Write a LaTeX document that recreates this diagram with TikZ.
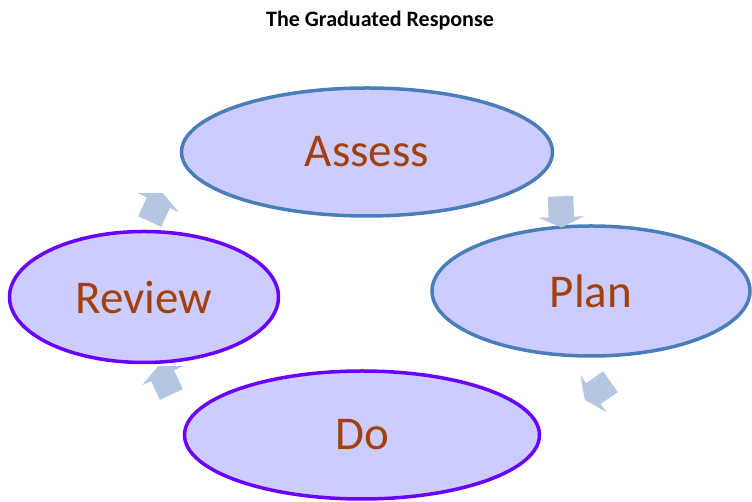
\documentclass[tikz,border=0pt]{standalone}
\usepackage{fontspec}
\setmainfont{Carlito}
\usepackage{xcolor}
\usetikzlibrary{shapes.geometric,shapes.arrows}

\definecolor{fond}{HTML}{CCCCFF}
\definecolor{bordbleu}{HTML}{4A7EBB}
\definecolor{bordviolet}{HTML}{6A00FF}
\definecolor{brique}{HTML}{A3400A}
\definecolor{gris}{HTML}{B4C6E0}

\begin{document}
\begin{tikzpicture}[x=1pt,y=1pt]
\useasboundingbox (0,0) rectangle (752,502);
% Styles of the stages and of the block arrows
\tikzstyle{stage}=[ellipse,fill=fond,line width=3.5pt,inner sep=0pt,
                   text=brique,font=\fontsize{47}{50}\selectfont]
\tikzstyle{bluestage}=[stage,draw=bordbleu]
\tikzstyle{purplestage}=[stage,draw=bordviolet]
\tikzstyle{flow}=[single arrow,fill=gris,draw=none,inner sep=12.5pt,
                  minimum height=31pt,single arrow head extend=10pt,
                  single arrow tip angle=130]

% Title
\node[font=\bfseries\fontsize{22}{26}\selectfont] (title) at (380,481)
     {The Graduated Response};

% The four stages of the cycle
\foreach \x/\y/\w/\h/\name/\type/\txt in {367/350/371/128/assess/bluestage/Assess,
                                 591/211/318/130/plan/bluestage/Plan,
                                 144/205/269/131/review/purplestage/Review,
                                 362/67/355/128/do/purplestage/Do}{
    \node[\type,minimum width=\w pt,minimum height=\h pt] (\name) at (\x,\y) {\txt};
}

% Block arrows between the stages
\foreach \x/\y/\a/\name in {561/293/-88/a1, 600/113/215/a2,
                            166/119/115/a3, 155/292/65/a4}{
    \node[flow,rotate=\a] (\name) at (\x,\y) {};
}
\end{tikzpicture}
\end{document}
